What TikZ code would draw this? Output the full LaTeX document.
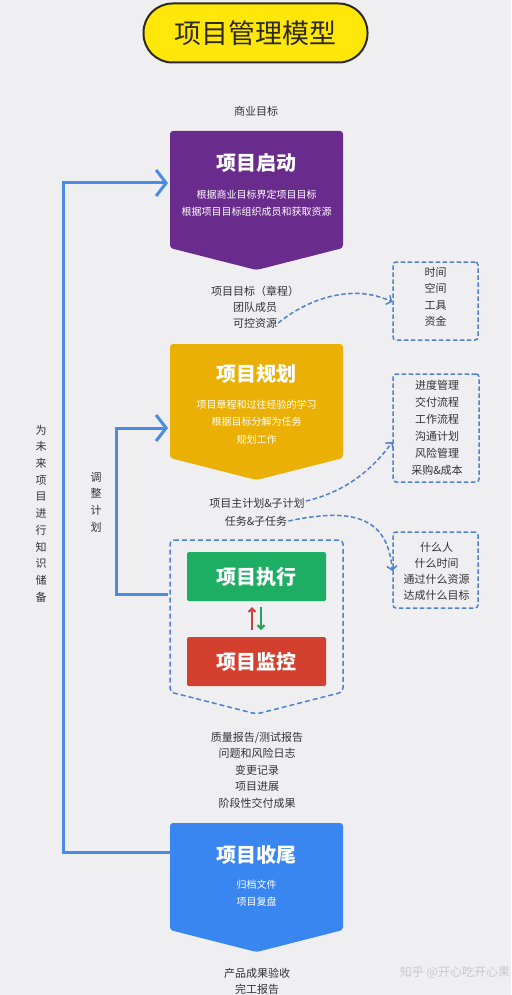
\documentclass[tikz,border=0pt]{standalone}
\usepackage{fontspec}
\setmainfont{Noto Sans CJK SC}
\usetikzlibrary{arrows.meta}
\definecolor{bg}{HTML}{EFEFF1}
\definecolor{txt}{HTML}{333333}
\definecolor{ttlyel}{HTML}{FFE70A}
\definecolor{ttlbrd}{HTML}{2E2A1A}
\definecolor{cpurple}{HTML}{6A2C8C}
\definecolor{cyellow}{HTML}{EBB005}
\definecolor{cgreen}{HTML}{1DAE63}
\definecolor{cred}{HTML}{D4402F}
\definecolor{cblue}{HTML}{3A86F0}
\definecolor{fbblue}{HTML}{4A8BE6}
\definecolor{dashc}{HTML}{4F82CC}
\definecolor{arrred}{HTML}{C8413A}
\definecolor{arrgreen}{HTML}{22A35C}
\definecolor{wmark}{HTML}{C9C9CD}
\begin{document}
\begin{tikzpicture}[x=1pt,y=-1pt,
  lbl/.style={font=\fontsize{11}{16.5}\selectfont, text=txt, inner sep=0pt, align=center},
  ttl/.style={font=\fontsize{20}{24}\selectfont\bfseries, text=white, inner sep=0pt},
  sub/.style={font=\fontsize{10}{17.3}\selectfont, text=white, inner sep=0pt, align=center},
  stagebox/.style={rounded corners=3pt},
  dbox/.style={draw=dashc, line width=1.5pt, dash pattern=on 4.5pt off 2.5pt, rounded corners=3pt, inner sep=0pt},
  darr/.style={draw=dashc, line width=1.5pt, dash pattern=on 4.5pt off 2.5pt, -{Straight Barb[length=4pt,width=10pt]}},
  fb/.style={draw=fbblue, line width=3pt},
  fbarr/.style={fb, -{Straight Barb[length=10pt,width=26pt]}},
  vtxt/.style={font=\fontsize{11}{16.7}\selectfont, text=txt, inner sep=0pt, align=center}
]
\fill[bg] (0,0) rectangle (511,995);
\useasboundingbox (0,0) rectangle (511,995);

% title
\node[draw=ttlbrd, line width=2pt, fill=ttlyel, rounded corners=29pt,
  minimum width=224, minimum height=59, inner sep=0pt,
  font=\fontsize{27}{30}\selectfont, text=ttlbrd] (title) at (255.5,33) {项目管理模型};

% business goal
\node[lbl] (biz) at (256,111) {商业目标};

% stage 1: purple
\fill[cpurple, stagebox] (170,131) -- (343,131) -- (343,248) -- (256.5,270) -- (170,248) -- cycle;
\node[ttl] (start) at (256.5,163) {项目启动};
\node[sub] (startsub) at (256.5,203) {根据商业目标界定项目目标\\根据项目目标组织成员和获取资源};

% outputs 1
\node[lbl] (o11) at (255,291) {项目目标（章程）};
\node[lbl] (o12) at (255,307) {团队成员};
\node[lbl] (o13) at (255,323) {可控资源};

% dashed box 1
\node[dbox, minimum width=85, minimum height=78] (box1) at (435.5,301) {};
\node[lbl] (box1t) at (435.5,297) {时间\\空间\\工具\\资金};

% stage 2: yellow
\fill[cyellow, stagebox] (170,344) -- (343,344) -- (343,458) -- (256.5,480) -- (170,458) -- cycle;
\node[ttl] (plan) at (256.5,374) {项目规划};
\node[sub] (plansub) at (256.5,422) {项目章程和过往经验的学习\\根据目标分解为任务\\规划工作};

% outputs 2
\node[lbl] (o21) at (257,503) {项目主计划\&子计划};
\node[lbl] (o22) at (256,521) {任务\&子任务};

% dashed box 2
\node[dbox, minimum width=86, minimum height=108] (box2) at (436,428) {};
\node[lbl, font=\fontsize{11}{17}\selectfont] (box2t) at (437,427.5) {进度管理\\交付流程\\工作流程\\沟通计划\\风险管理\\采购\&成本};

% dashed box 3
\node[dbox, minimum width=85, minimum height=76] (box3) at (435.5,570) {};
\node[lbl, font=\fontsize{11}{16}\selectfont] (box3t) at (436.5,571) {什么人\\什么时间\\通过什么资源\\达成什么目标};

% dashed chevron around execution / monitoring
\draw[draw=dashc, line width=1.5pt, dash pattern=on 5pt off 3pt, rounded corners=4pt]
  (170,540) -- (343,540) -- (343,692) -- (256.5,714) -- (170,692) -- cycle;
\node[fill=cgreen, minimum width=139, minimum height=49, inner sep=0pt,
  rounded corners=1.5pt, font=\fontsize{20}{24}\selectfont\bfseries, text=white] (exec) at (256.5,576.5) {项目执行};
\node[fill=cred, minimum width=139, minimum height=49, inner sep=0pt,
  rounded corners=1.5pt, font=\fontsize{20}{24}\selectfont\bfseries, text=white] (mon) at (256.5,661.5) {项目监控};
\coordinate (upb) at (252,630);
\coordinate (upt) at (252,607);
\coordinate (dnt) at (261,607);
\coordinate (dnb) at (261,630);
\draw[arrred, line width=2pt, -{Straight Barb[length=3.5pt,width=7pt]}] (upb) -- (upt);
\draw[arrgreen, line width=2pt, -{Straight Barb[length=3.5pt,width=7pt]}] (dnt) -- (dnb);

% outputs 3
\node[lbl] (o3) at (257,770) {质量报告/测试报告\\问题和风险日志\\变更记录\\项目进展\\阶段性交付成果};

% stage 4: blue
\fill[cblue, stagebox] (170,823) -- (343,823) -- (343,930) -- (256.5,952) -- (170,930) -- cycle;
\node[ttl] (close) at (256.5,855) {项目收尾};
\node[sub] (closesub) at (256.5,893.5) {归档文件\\项目复盘};

% final outputs
\node[lbl] (o41) at (257,973) {产品成果验收};
\node[lbl] (o42) at (257,989) {完工报告};

% dashed curved arrows
\draw[darr] (o13.east) ++(1,0) coordinate (a1s) .. controls (310,297) and (355,284) .. (box1.west |- 0,302);
\draw[darr] (o21.east) ++(1,-2) coordinate (a2s) .. controls (345,492) and (372,470) .. (box2.west |- 0,442);
\draw[darr] (o22.east) ++(1,0) coordinate (a3s) .. controls (350,508) and (388,515) .. (box3.west |- 0,571);

% feedback loops
\coordinate (fbO1) at (170,852);
\coordinate (fbO2) at (63,852);
\coordinate (fbO3) at (63,183);
\coordinate (fbO4) at (168,183);
\draw[fbarr] (fbO1) -- (fbO2) -- (fbO3) -- (fbO4);
\coordinate (fbI1) at (168,594);
\coordinate (fbI2) at (116,594);
\coordinate (fbI3) at (116,428);
\coordinate (fbI4) at (168,428);
\draw[fbarr] (fbI1) -- (fbI2) -- (fbI3) -- (fbI4);

\node[vtxt] (vt1) at (41,513.5) {为\\未\\来\\项\\目\\进\\行\\知\\识\\储\\备};
\node[vtxt] (vt2) at (96,502) {调\\整\\计\\划};

% watermark
\node[font=\fontsize{12}{14}\selectfont, text=wmark, inner sep=0pt] (wm) at (455,972) {知乎 @开心吃开心果};
\end{tikzpicture}
\end{document}
